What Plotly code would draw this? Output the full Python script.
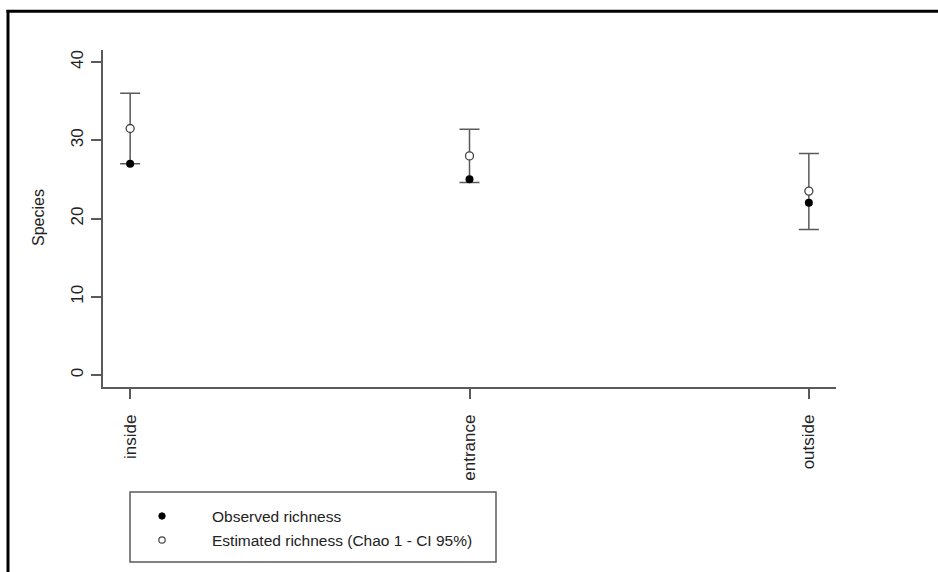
import plotly.graph_objects as go

# Species richness per site
sites = ["inside", "entrance", "outside"]
observed = [27, 25, 22]
estimated = [31.5, 28.0, 23.5]
ci_lower = [27.0, 24.6, 18.6]
ci_upper = [36.0, 31.4, 28.3]

legend_labels = ["Observed richness", "Estimated richness (Chao 1 - CI 95%)"]

W, H = 938, 572
L, R, T, B = 103, 836, 50, 387   # plot area in pixels


def px_x(p):
    return (p - L) / (R - L)


def px_y(p):
    return (B - p) / (B - T)


AXIS_COL = "#5a5a5a"
TEXT_COL = "#222222"
FONT = "Liberation Sans, Arial, sans-serif"

fig = go.Figure()

# Chao 1 estimate with its confidence interval
fig.add_trace(go.Scatter(
    x=sites, y=estimated, mode="markers",
    marker=dict(symbol="circle", size=8, color="white",
                line=dict(color="#444444", width=1.3)),
    error_y=dict(type="data", symmetric=False,
                 array=[u - e for u, e in zip(ci_upper, estimated)],
                 arrayminus=[e - l for e, l in zip(estimated, ci_lower)],
                 width=10, thickness=1.5, color=AXIS_COL),
    showlegend=False, hoverinfo="skip",
))

# Observed richness
fig.add_trace(go.Scatter(
    x=sites, y=observed, mode="markers",
    marker=dict(symbol="circle", size=8, color="black"),
    showlegend=False, hoverinfo="skip",
))

shapes = []
# frame edges (top and left)
shapes.append(dict(type="line", xref="paper", yref="paper",
                   x0=px_x(6.5), x1=px_x(938), y0=px_y(11.3), y1=px_y(11.3),
                   line=dict(color="black", width=3)))
shapes.append(dict(type="line", xref="paper", yref="paper",
                   x0=px_x(8), x1=px_x(8), y0=px_y(10), y1=px_y(572),
                   line=dict(color="black", width=3)))
# legend box
shapes.append(dict(type="rect", xref="paper", yref="paper",
                   x0=px_x(130), x1=px_x(496), y0=px_y(492), y1=px_y(562),
                   line=dict(color=AXIS_COL, width=1.5), fillcolor="rgba(0,0,0,0)"))
# legend keys
key_rows = [516, 540]
key_styles = [dict(fillcolor="black", line=dict(color="black", width=1)),
              dict(fillcolor="white", line=dict(color="#444444", width=1.2))]
for yy, st in zip(key_rows, key_styles):
    shapes.append(dict(type="circle", xref="paper", yref="paper",
                       xsizemode="pixel", ysizemode="pixel",
                       xanchor=px_x(162), yanchor=px_y(yy),
                       x0=-3.2, x1=3.2, y0=-3.2, y1=3.2, **st))

annotations = []
for yy, lab in zip(key_rows, legend_labels):
    annotations.append(dict(xref="paper", yref="paper", x=px_x(210), y=px_y(yy),
                            xanchor="left", yanchor="middle", text=lab, showarrow=False,
                            font=dict(family=FONT, size=15.5, color=TEXT_COL)))
# y axis title
annotations.append(dict(xref="paper", yref="paper", x=px_x(38), y=px_y(218),
                        xanchor="center", yanchor="middle", text="Species",
                        textangle=-90, showarrow=False,
                        font=dict(family=FONT, size=16, color=TEXT_COL)))

fig.update_layout(
    width=W, height=H, autosize=False,
    margin=dict(l=L, r=W - R, t=T, b=H - B, pad=0),
    paper_bgcolor="white", plot_bgcolor="white",
    font=dict(family=FONT, size=16, color=TEXT_COL),
    shapes=shapes, annotations=annotations,
    xaxis=dict(range=[-0.08, 2.08], showgrid=False, zeroline=False,
               showline=True, linecolor=AXIS_COL, linewidth=1.5,
               ticks="outside", ticklen=10, tickwidth=1.5, tickcolor=AXIS_COL,
               tickangle=-90, ticklabelstandoff=9,
               tickfont=dict(family=FONT, size=17, color=TEXT_COL)),
    yaxis=dict(range=[-1.53, 41.53], showgrid=False, zeroline=False,
               showline=True, linecolor=AXIS_COL, linewidth=1.5,
               tickmode="array", tickvals=[0, 10, 20, 30, 40],
               ticks="outside", ticklen=10, tickwidth=1.5, tickcolor=AXIS_COL,
               tickangle=-90, ticklabelstandoff=1,
               tickfont=dict(family=FONT, size=17, color=TEXT_COL)),
)

fig.write_html("out.html")
